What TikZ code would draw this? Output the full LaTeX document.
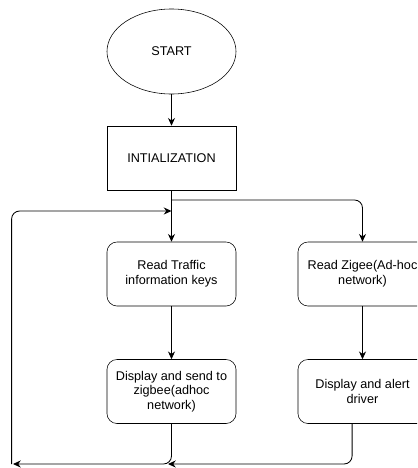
\documentclass[tikz,border=0pt]{standalone}
\usepackage{fontspec}
\setmainfont{Liberation Sans}
\usetikzlibrary{shapes.geometric,arrows.meta}
\tikzset{
  box/.style={draw, minimum width=3.225cm, minimum height=1.6cm, align=center, font=\fontsize{9}{10.5}\selectfont, inner sep=1pt},
  roundbox/.style={box, rounded corners=0.25cm},
  flow/.style={semithick, -{Stealth[length=5.5pt,width=5pt]}}
}

\begin{document}
\begin{tikzpicture}[x=0.025cm, y=-0.025cm]
        \clip (0,0) rectangle (417,468);
        \useasboundingbox (0,0) rectangle (417,468);

        \node[box, ellipse, minimum height=2.125cm] (start) at (171.5,51.5) {START};
        \node[box] (init) at (171.5,158) {INTIALIZATION};
        \node[roundbox] (readkeys) at (171.5,274) {Read Traffic\\information keys};
        \node[roundbox] (sendzig) at (171.5,391.5) {Display and send to\\zigbee(adhoc\\network)};
        \node[roundbox] (readzig) at (362.5,274) {Read Zigee(Ad-hoc\\network)};
        \node[roundbox] (alert) at (362.5,391.5) {Display and alert\\driver};

        \coordinate (split) at (171.5,200);
        \coordinate (loopin) at (171.5,211);
        \coordinate (corner) at (13,464);
        \coordinate (join) at (168,464);

        \draw[flow] (start) -- (init);
        \draw[flow] (init) -- (readkeys);
        \draw[flow, rounded corners=0.2cm] (split) -| (readzig);
        \draw[flow] (readkeys) -- (sendzig);
        \draw[flow] (readzig) -- (alert);

        \draw[flow, rounded corners=0.2cm] (sendzig) |- (corner);
        \draw[flow, rounded corners=0.2cm] ([xshift=-0.26cm]alert.south) |- (join);
        \draw[flow, rounded corners=0.2cm] ([xshift=-1pt]corner) |- (loopin);
\end{tikzpicture}
\end{document}
